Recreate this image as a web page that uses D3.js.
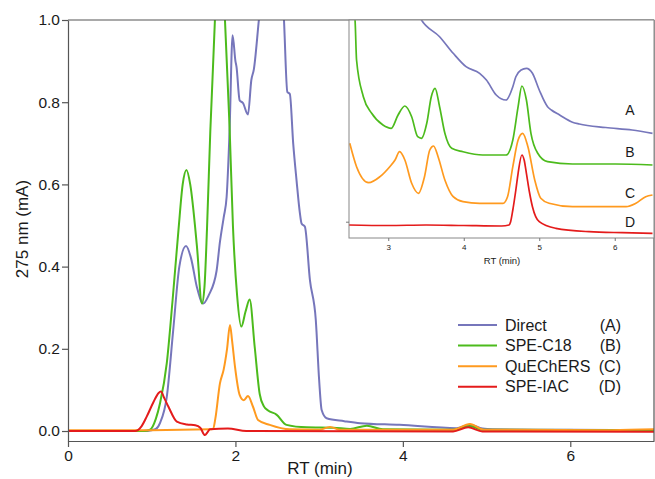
<!DOCTYPE html>
<html><head><meta charset="utf-8">
<script src="https://cdn.jsdelivr.net/npm/d3@7"></script>
<style>body{margin:0;background:#fff}svg{display:block;font-family:"Liberation Sans",Arial,sans-serif}</style>
</head><body><svg id="c" width="655" height="479"></svg>
<script>
// ---------- data ----------
const seriesNames = ["Direct","SPE-C18","QuEChERS","SPE-IAC"];
const seriesCodes = ["(A)","(B)","(C)","(D)"];
const insetLabels = ["A","B","C","D"];
const colors = ["#7676bb","#4cbb1c","#ff9a1f","#e41b1b"];
const xTicks = [0,2,4,6];
const yTicks = [0,0.2,0.4,0.6,0.8,1.0];
const insetXTicks = [3,4,5,6];

const directT = [0,0.9,1.0,1.05,1.1,1.18,1.257,1.33,1.41,1.47,1.54,1.615,1.68,1.775,1.815,1.86,1.895,1.93,1.966,2.0,2.013,2.05,2.09,2.15,2.19,2.22,2.28,2.38,2.48,2.55,2.58,2.62,2.65,2.69,2.73,2.77,2.79,2.83,2.89,2.96,3.0,3.03,3.09,3.3,3.49,3.96,4.64,4.8,4.95,5.07,6,7];
const directV = [0,0,0.002,0.005,0.02,0.083,0.246,0.40,0.45,0.42,0.35,0.31,0.33,0.39,0.46,0.52,0.57,0.73,0.963,0.9,0.886,0.805,0.798,0.77,0.854,0.88,1.0,1.2,1.25,1.12,1.0,0.825,0.82,0.70,0.61,0.53,0.505,0.497,0.367,0.27,0.124,0.051,0.031,0.024,0.019,0.015,0.007,0.015,0.006,0.004,0.003,0.002];

const c18T = [0,0.9,0.98,1.05,1.10,1.18,1.25,1.32,1.37,1.415,1.46,1.54,1.6,1.63,1.66,1.70,1.755,1.8,1.84,1.875,1.93,1.97,2.02,2.07,2.12,2.17,2.23,2.29,2.34,2.39,2.49,2.61,2.85,3.17,3.37,3.57,3.76,4.6,4.8,4.95,7];
const c18V = [0,0,0.003,0.03,0.068,0.165,0.32,0.49,0.6,0.635,0.6,0.45,0.31,0.35,0.49,0.73,1.0,1.3,1.2,1.0,0.74,0.5,0.33,0.254,0.29,0.32,0.205,0.09,0.06,0.05,0.04,0.015,0.009,0.008,0.005,0.013,0.004,0.003,0.012,0.003,0.002];

const quechT = [0,1.0,1.7,1.735,1.76,1.815,1.86,1.9,1.935,1.96,1.995,2.05,2.1,2.15,2.21,2.27,2.41,2.65,3.0,3.13,3.25,4.6,4.8,4.97,6.5,7];
const quechV = [0.002,0.002,0.004,0.006,0.03,0.116,0.15,0.2,0.258,0.22,0.156,0.088,0.075,0.085,0.059,0.027,0.015,0.004,0.003,0.01,0.003,0.003,0.017,0.003,0.002,0.004];

const iacT = [0,0.8,0.88,0.94,1.02,1.08,1.11,1.15,1.2,1.3,1.42,1.52,1.58,1.635,1.67,1.695,1.91,2.13,4.6,4.78,4.95,7];
const iacV = [0,0,0.012,0.035,0.07,0.092,0.096,0.08,0.059,0.023,0.016,0.014,0.008,-0.01,-0.002,0.004,0.006,0,-0.001,0.009,-0.001,-0.002];

// inset traces (offset, arbitrary units)
const inATt = [3.40,3.44,3.68,3.86,4.03,4.21,4.30,4.43,4.56,4.65,4.69,4.76,4.83,4.91,5.0,5.11,5.16,5.27,5.44,5.53,5.88,6.23,6.5];
const inAV  = [20.7,20.17,18.5,16.84,15.5,14.84,14.17,12.67,12.17,13.5,14.5,15.17,15.34,14.84,13.17,11.5,11.17,10.67,9.95,9.77,9.42,9.17,8.84];
const inBT = [2.55,2.56,2.58,2.67,2.78,2.93,3.04,3.13,3.22,3.31,3.39,3.44,3.51,3.57,3.62,3.68,3.75,3.84,3.99,4.25,4.56,4.65,4.72,4.77,4.83,4.89,4.98,5.11,5.44,6.01,6.5];
const inBV = [20.67,20.17,16.17,12.5,10.84,9.67,9.34,10.67,11.57,10.5,8.5,8.34,9.84,12.5,13.34,11.5,8.84,7.34,7.0,6.67,6.67,8.17,11.5,13.57,12.17,8.84,6.84,6.0,5.77,5.77,5.67];
const inCT = [2.49,2.58,2.74,2.89,3.02,3.09,3.15,3.22,3.31,3.40,3.48,3.55,3.60,3.66,3.75,3.86,3.99,4.21,4.52,4.58,4.65,4.72,4.78,4.85,4.94,5.02,5.13,5.44,5.79,6.15,6.28,6.41,6.5];
const inCV = [7.84,5.5,3.9,4.5,5.5,6.17,7.0,6.17,3.84,2.84,4.5,7.17,7.57,6.5,4.17,2.5,2.0,1.84,1.84,2.5,5.5,8.17,8.84,7.5,4.17,2.34,1.84,1.5,1.5,1.5,1.84,2.5,2.67];
const inDT = [2.48,3.0,3.5,4.0,4.5,4.6,4.62,4.65,4.69,4.72,4.77,4.8,4.83,4.87,4.91,5.0,5.22,5.66,6.1,6.5];
const inDV = [-0.33,-0.38,-0.33,-0.38,-0.43,-0.33,-0.03,1.17,3.17,4.84,6.67,6.17,4.84,2.97,1.5,0,-0.66,-1.0,-1.1,-1.16];

// ---------- chart ----------
const svg = d3.select("#c");
const L=68, R=654, T=20, B=441;
const x = d3.scaleLinear().domain([0,7]).range([L,R]);
const y = d3.scaleLinear().domain([-0.0243,1]).range([B,T]);
const axisCol="#555", txtCol="#1a1a1a";

svg.append("defs").append("clipPath").attr("id","mainclip")
  .append("rect").attr("x",L).attr("y",T).attr("width",R-L).attr("height",B-T);

const line = d3.line().x(d=>x(d[0])).y(d=>y(d[1])).curve(d3.curveMonotoneX);
const main = [[directT,directV],[c18T,c18V],[quechT,quechV],[iacT,iacV]];
const g = svg.append("g").attr("clip-path","url(#mainclip)");
main.forEach((s,i)=>{
  g.append("path").datum(s[0].map((t,k)=>[t,s[1][k]]))
   .attr("d",line).attr("fill","none").attr("stroke",colors[i]).attr("stroke-width",2).attr("stroke-linejoin","round");
});

// frame
svg.append("line").attr("x1",L).attr("x2",R).attr("y1",T).attr("y2",T).attr("stroke",axisCol).attr("stroke-width",1.2);
svg.append("line").attr("x1",R).attr("x2",R).attr("y1",T).attr("y2",B).attr("stroke",axisCol).attr("stroke-width",1.2);

const yAx = svg.append("g").attr("transform",`translate(${L},0)`)
  .call(d3.axisLeft(y).tickValues(yTicks).tickFormat(d3.format(".1f")).tickSize(6).tickSizeOuter(0));
yAx.select(".domain").attr("stroke",axisCol).attr("stroke-width",1.2);
yAx.selectAll(".tick line").attr("stroke",axisCol).attr("stroke-width",1.2);
yAx.selectAll("text").attr("font-size",15.5).attr("fill",txtCol).attr("font-family","Liberation Sans, Arial, sans-serif").attr("x",-8);

const xAx = svg.append("g").attr("transform",`translate(0,${B})`)
  .call(d3.axisBottom(x).tickValues(xTicks).tickFormat(d3.format("d")).tickSize(6).tickSizeOuter(0));
xAx.select(".domain").attr("stroke",axisCol).attr("stroke-width",1.2);
xAx.selectAll(".tick line").attr("stroke",axisCol).attr("stroke-width",1.2);
xAx.selectAll("text").attr("font-size",15.5).attr("fill",txtCol).attr("font-family","Liberation Sans, Arial, sans-serif").attr("y",9);

svg.append("text").attr("x",320).attr("y",474).attr("text-anchor","middle").attr("font-size",17).attr("fill",txtCol).text("RT (min)");
svg.append("text").attr("transform","translate(28,229) rotate(-90)").attr("text-anchor","middle").attr("font-size",17).attr("fill",txtCol).text("275 nm (mA)");

// legend
seriesNames.forEach((n,i)=>{
  const yy = 325 + i*20.6;
  svg.append("line").attr("x1",458).attr("x2",497).attr("y1",yy).attr("y2",yy).attr("stroke",colors[i]).attr("stroke-width",2);
  svg.append("text").attr("x",505).attr("y",yy+5.5).attr("font-size",16).attr("fill",txtCol).text(n);
  svg.append("text").attr("x",621).attr("y",yy+5.5).attr("font-size",16).attr("text-anchor","end").attr("fill",txtCol).text(seriesCodes[i]);
});

// ---------- inset ----------
const iL=349, iR=654, iT=20, iB=238;
const ix = d3.scaleLinear().domain([2.48,6.52]).range([iL,iR]);
const iy = d3.scaleLinear().domain([-1.63,20.17]).range([iB,iT]);
svg.append("rect").attr("x",iL).attr("y",iT).attr("width",iR-iL).attr("height",iB-iT).attr("fill","#fff").attr("stroke","none");
svg.select("defs").append("clipPath").attr("id","insclip")
  .append("rect").attr("x",iL).attr("y",iT).attr("width",iR-iL).attr("height",iB-iT);
const iline = d3.line().x(d=>ix(d[0])).y(d=>iy(d[1])).curve(d3.curveMonotoneX);
const ins = [[inATt,inAV],[inBT,inBV],[inCT,inCV],[inDT,inDV]];
const ig = svg.append("g").attr("clip-path","url(#insclip)");
ins.forEach((s,i)=>{
  ig.append("path").datum(s[0].map((t,k)=>[t,s[1][k]]))
    .attr("d",iline).attr("fill","none").attr("stroke",colors[i]).attr("stroke-width",1.7);
});
svg.append("rect").attr("x",iL).attr("y",iT).attr("width",iR-iL).attr("height",iB-iT).attr("fill","none").attr("stroke","#888").attr("stroke-width",1);
const ixAx = svg.append("g").attr("transform",`translate(0,${iB})`)
  .call(d3.axisBottom(ix).tickValues(insetXTicks).tickFormat(d3.format("d")).tickSize(3).tickSizeOuter(0));
ixAx.select(".domain").remove();
ixAx.selectAll(".tick line").attr("stroke","#777");
ixAx.selectAll("text").attr("font-size",8).attr("fill",txtCol).attr("font-family","Liberation Sans, Arial, sans-serif").attr("y",6);
svg.append("text").attr("x",502).attr("y",264).attr("text-anchor","middle").attr("font-size",9.5).attr("fill",txtCol).text("RT (min)");
const iyAx = svg.append("g").attr("transform",`translate(${iL},0)`)
  .call(d3.axisLeft(iy).tickValues([0]).tickFormat("").tickSize(3).tickSizeOuter(0));
iyAx.select(".domain").remove();
iyAx.selectAll(".tick line").attr("stroke","#777");
const labY = [11.2, 7.0, 2.9, 0];
insetLabels.forEach((l,i)=>{
  svg.append("text").attr("x",630).attr("y",iy(labY[i])+5).attr("text-anchor","middle").attr("font-size",14).attr("fill",txtCol).text(l);
});
</script></body></html>
